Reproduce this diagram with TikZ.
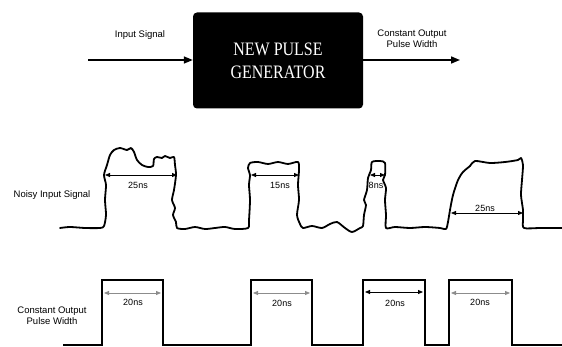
\documentclass[tikz,border=0pt]{standalone}
\usepackage{graphicx}
\usepackage{fontspec}
\setmainfont{Liberation Sans}
\newfontfamily\boxfont{Liberation Serif}
\usetikzlibrary{arrows.meta}
\begin{document}
\begin{tikzpicture}[x=1pt,y=-1pt,
  lbl/.style={font=\fontsize{9.5}{11}\selectfont, inner sep=0pt, align=center},
  dimlbl/.style={font=\fontsize{9}{10}\selectfont, inner sep=0pt},
  flow/.style={line width=1.6pt, -{Triangle[length=9pt,width=7pt]}},
  wave/.style={line width=1.8pt, line join=round, line cap=round},
  dimarrow/.style={line width=0.8pt, {Triangle[length=5pt,width=4pt]}-{Triangle[length=5pt,width=4pt]}},
  greydim/.style={dimarrow, draw=black!45},
  gen/.style={fill=black, rounded corners=4pt, minimum width=170pt, minimum height=96pt,
     text=white, font=\boxfont\fontsize{16.5}{22}\selectfont, align=center, inner sep=0pt}
]
\useasboundingbox (0,0) rectangle (562,347);

% top block diagram
\node[gen] (gen) at (278,60.5) {\scalebox{0.97}[1.15]{NEW PULSE}\\[1pt]\scalebox{0.97}[1.15]{GENERATOR}};
\coordinate (inStart) at (88,60);
\coordinate (outEnd) at (460,60);
\draw[flow] (inStart) -- (gen.west |- inStart);
\draw[flow] (gen.east |- outEnd) -- (outEnd);
\node[lbl] (inLabel) at (140,35) {Input Signal};
\node[lbl] (outLabel) at (412,39) {Constant Output\\Pulse Width};

% noisy input signal
\node[lbl] (noisyLabel) at (52,195) {Noisy Input Signal};
\draw[wave] plot[smooth, tension=0.45] coordinates {
 (60,228) (70,227) (85,228) (100,228) (104,226)
 (106,215) (105,200) (106,185) (104,175) (107,165) (110,155) (114,150) (120,148) (127,150) (131,148) (134,152) (137,160) (142,165) (148,167) (153,166) (154,159) (157,157) (162,158) (165,156) (170,158) (174,157) (175,165) (176,175) (174,190) (172,200) (175,208) (173,215) (176,222) (177,228)
 (185,229) (195,227) (205,229) (215,228) (225,227) (235,229) (248,228)
 (249,220) (250,200) (249,185) (250,175) (248,168) (250,163) (258,162) (268,164) (278,162) (288,164) (298,162) (299,170) (298,185) (299,200) (297,215) (300,224) (303,228)
 (312,226) (322,228) (330,224) (337,222) (345,228) (352,232) (360,228) (363,226)
 (364,215) (366,205) (364,200) (367,190) (368,178) (371,170) (372,162) (380,161) (385,163) (385,175) (383,180) (386,188) (385,200) (386,215) (386,228)
 (395,227) (410,228) (425,227) (440,228) (446,229) (448,222)
 (450,210) (453,195) (458,180) (463,172) (470,166) (475,161) (490,163) (505,162) (518,160) (521,158) (523,165) (522,180) (521,195) (523,210) (523,220) (524,228) (540,228) (562,228)};

\coordinate (n1a) at (105,175); \coordinate (n1b) at (177,175);
\coordinate (n2a) at (251,175); \coordinate (n2b) at (299,175);
\coordinate (n3a) at (370,175); \coordinate (n3b) at (385,175);
\coordinate (n4a) at (451,213); \coordinate (n4b) at (523,213);
\draw[dimarrow] (n1a) -- (n1b);
\draw[dimarrow] (n2a) -- (n2b);
\draw[dimarrow] (n3a) -- (n3b);
\draw[dimarrow] (n4a) -- (n4b);
\node[dimlbl] (t1) at (138,185) {25ns};
\node[dimlbl] (t2) at (280,185) {15ns};
\node[dimlbl] (t3) at (376,185) {8ns};
\node[dimlbl] (t4) at (485,208) {25ns};

% constant output pulses
\node[lbl] (outWaveLabel) at (52,316) {Constant Output\\Pulse Width};
\draw[wave, line cap=butt, line join=miter] (63,345) -- (102,345) -- (102,280) -- (163,280) -- (163,345)
 -- (251,345) -- (251,280) -- (312,280) -- (312,345)
 -- (363,345) -- (363,280) -- (425,280) -- (425,345)
 -- (449,345) -- (449,280) -- (512,280) -- (512,345) -- (562,345);

\coordinate (p1a) at (104,293); \coordinate (p1b) at (161,293);
\coordinate (p2a) at (253,293); \coordinate (p2b) at (310,293);
\coordinate (p3a) at (365,292); \coordinate (p3b) at (423,292);
\coordinate (p4a) at (451,293); \coordinate (p4b) at (510,293);
\draw[greydim] (p1a) -- (p1b);
\draw[greydim] (p2a) -- (p2b);
\draw[dimarrow] (p3a) -- (p3b);
\draw[greydim] (p4a) -- (p4b);
\node[dimlbl] (o1) at (133,302) {20ns};
\node[dimlbl] (o2) at (282,303) {20ns};
\node[dimlbl] (o3) at (395,303) {20ns};
\node[dimlbl] (o4) at (480,302) {20ns};
\end{tikzpicture}
\end{document}
